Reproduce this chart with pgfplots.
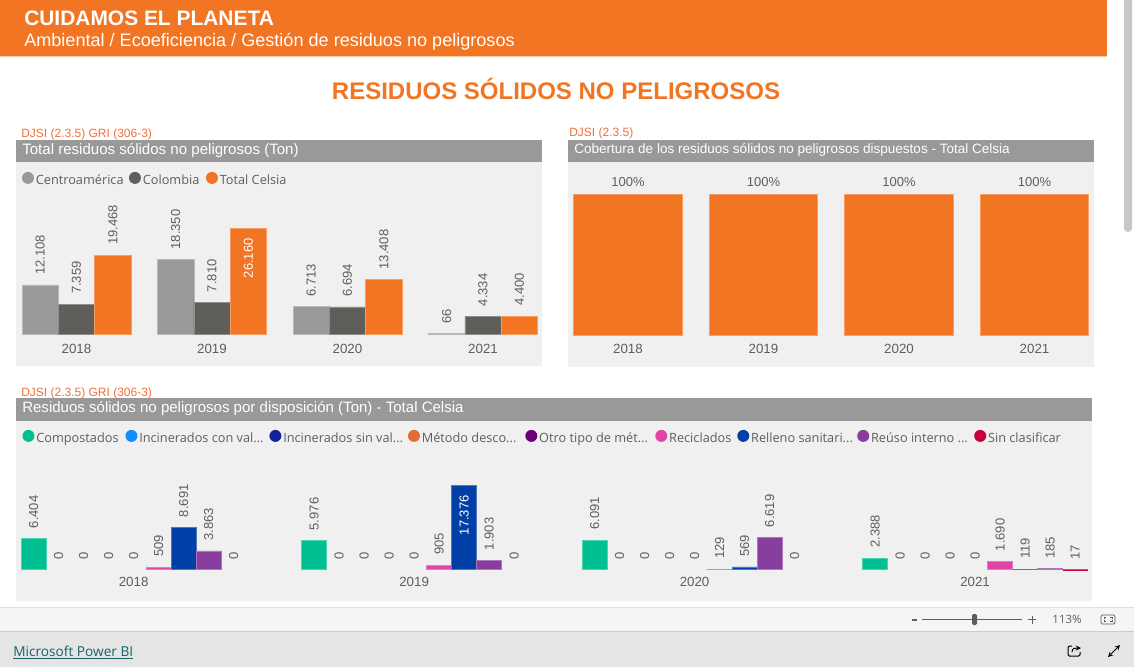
\documentclass[border=0pt]{standalone}
\usepackage{pgfplots}
\pgfplotsset{compat=1.18}
\usepackage{fontspec}
\setmainfont{Liberation Sans}
\newfontfamily\seg{Open Sans}
\definecolor{naranja}{HTML}{F17523}
\definecolor{gris}{HTML}{999999}
\definecolor{oscuro}{HTML}{5F5E5B}
\definecolor{panel}{HTML}{F0F0F0}
\definecolor{txt}{HTML}{605E5C}
\definecolor{djsi}{HTML}{F0703A}
\definecolor{enlace}{HTML}{15616B}
\definecolor{cComp}{HTML}{00BF91}
\definecolor{cIncC}{HTML}{118DFF}
\definecolor{cIncS}{HTML}{12239E}
\definecolor{cMet}{HTML}{E66C37}
\definecolor{cOtro}{HTML}{6B007B}
\definecolor{cRec}{HTML}{E044A7}
\definecolor{cRel}{HTML}{003FA5}
\definecolor{cReu}{HTML}{873E9F}
\definecolor{cSin}{HTML}{C8003E}
% 1 px of the reference = 0.75pt
\def\u{0.75pt}
\newcommand{\fs}[1]{\fontsize{#1}{#1}\selectfont}
\pgfplotsset{
  tablero/.style={
    scale only axis,
    clip=false,
    axis y line=none,
    axis x line*=bottom,
    x axis line style={draw=none},
    major tick length=0pt,
    ybar,
    ymin=0,
    xtick={0,1,2,3},
    xticklabels={2018,2019,2020,2021},
    xticklabel style={font=\fs{10},text=txt,inner sep=0pt},
    /pgf/number format/.cd,1000 sep={.},assume math mode=true,
    /pgfplots/.cd,
    nodes near coords,
    legend columns=-1,
    legend cell align=left,
    legend style={draw=none,fill=none,inner sep=0pt,outer sep=0pt,anchor=west,font=\seg\fs{9.55},text=txt,
      nodes={inner sep=0pt,outer sep=0pt},
      /tikz/every even column/.style={column sep=0pt}},
  },
  vertical/.style={nodes near coords style={font=\fs{9.75},text=txt,rotate=90,anchor=west,inner xsep=7.5pt,inner ysep=0pt}},
  % value written inside the tallest bar
  dentro/.style={nodes near coords style={anchor=east,text=white}},
  barra/.style n args={3}{fill=#1,draw=#1!70!white,line width=0.5pt,bar shift=#2*\u,bar width=#3*\u,forget plot},
  sinbarra/.style n args={2}{fill=none,draw=none,bar shift=#1*\u,bar width=#2*\u,forget plot},
}
% legend entry: dot and a box of fixed width
\newcommand{\leyenda}[3]{%
  \addlegendimage{legend image code/.code={\fill[draw=none,#1] (4.5pt,1.8pt) circle (4.5pt);\path[draw=none] (0pt,0pt) -- (10.4pt,0pt);}}
  \addlegendentry{\makebox[0.75\dimexpr #2pt\relax][l]{#3}}}
\begin{document}
\begin{tikzpicture}
\begin{scope}[x=0.75pt,y=-0.75pt]
  \useasboundingbox (0,0) rectangle (1134,667);
  \fill[white] (0,0) rectangle (1134,667);
  % page header
  \fill[naranja] (0,0) rectangle (1107,56);
  \draw[naranja!40,line width=0.75pt] (0,56.5) -- (1107,56.5);
  \node[anchor=west,inner sep=0pt,text=white,font=\fs{15.7}\bfseries] at (24,18) {CUIDAMOS EL PLANETA};
  \node[anchor=west,inner sep=0pt,text=white,font=\fs{13.56}] at (24,41.5) {Ambiental / Ecoeficiencia / Gestión de residuos no peligrosos};
  \node[inner sep=0pt,text=naranja,font=\fs{18}\bfseries] at (556,88.5) {RESIDUOS SÓLIDOS NO PELIGROSOS};
  % scrollbar
  \fill[black!22,rounded corners=3pt] (1124,-6) rectangle (1132,232);
  % panels
  \fill[panel] (16,162) rectangle (542,366);
  \fill[gris] (16,140) rectangle (542,162);
  \fill[panel] (568,162) rectangle (1094,367);
  \fill[gris] (568,140) rectangle (1094,162);
  \fill[panel] (16,421) rectangle (1092,601);
  \fill[gris] (16,398) rectangle (1092,421);
  \node[anchor=west,inner sep=0pt,text=djsi,font=\fs{9}] at (21,134) {DJSI (2.3.5) GRI (306-3)};
  \node[anchor=west,inner sep=0pt,text=djsi,font=\fs{9}] at (569,133) {DJSI (2.3.5)};
  \node[anchor=west,inner sep=0pt,text=djsi,font=\fs{9}] at (21,393) {DJSI (2.3.5) GRI (306-3)};
  \node[anchor=west,inner sep=0pt,text=white,font=\fs{11.3}] at (22,150.5) {Total residuos sólidos no peligrosos (Ton)};
  \node[anchor=west,inner sep=0pt,text=white,font=\fs{10.15}] at (574,149.5) {Cobertura de los residuos sólidos no peligrosos dispuestos - Total Celsia};
  \node[anchor=west,inner sep=0pt,text=white,font=\fs{11.28}] at (22,408.5) {Residuos sólidos no peligrosos por disposición (Ton) - Total Celsia};
  % report footer
  \fill[black!4] (0,607) rectangle (1134,631);
  \draw[black!12,line width=0.75pt] (0,607) -- (1134,607);
  \fill[black!10] (0,631) rectangle (1134,667);
  \draw[black!20,line width=0.75pt] (0,631) -- (1134,631);
  \node[anchor=west,inner sep=0pt,text=enlace,font=\seg\fs{10.25}] at (13,652.5) {\underline{Microsoft Power BI}};
  \fill[oscuro] (912,619) rectangle (917,620.5);
  \draw[oscuro,line width=0.75pt] (922,619.5) -- (1022,619.5);
  \fill[oscuro,rounded corners=1pt] (972,614) rectangle (977,625);
  \draw[oscuro,line width=0.75pt] (1028,619.5) -- (1036,619.5) (1032,615.5) -- (1032,623.5);
  \node[inner sep=0pt,text=txt,font=\seg\fs{8.6}] at (1067,619.5) {113\%};
  \draw[oscuro,line width=0.6pt,rounded corners=1pt] (1101,615) rectangle (1115,624);
  \fill[black!4] (1104,617.5) rectangle (1112,621.5);
  \draw[oscuro,line width=0.5pt] (1104,619) -- (1104,617.5) -- (1106,617.5) (1110,617.5) -- (1112,617.5) -- (1112,619)
    (1112,620) -- (1112,621.5) -- (1110,621.5) (1106,621.5) -- (1104,621.5) -- (1104,620);
  \draw[black,line width=0.75pt,rounded corners=1pt] (1072,646) -- (1068,646) -- (1068,656) -- (1080,656) -- (1080,652);
  \draw[black,line width=0.75pt,->,>=stealth] (1072,652) .. controls (1072,648) and (1075,648) .. (1081,648);
  \draw[black,line width=0.75pt,<->,>=stealth] (1108,657) -- (1120,645);
\end{scope}

% total por region
\begin{axis}[tablero,vertical,
  at={(22*\u,-334*\u)},anchor=south west,
  width=386.6pt,height=79.5pt,
  xmin=-0.402,xmax=3.402,ymax=26160,
  xticklabel style={yshift=-10*\u},
  legend style={at={(0,1.462)}},
]
  \leyenda{gris}{93.1}{Centroamérica}
  \leyenda{oscuro}{63.1}{Colombia}
  \leyenda{naranja}{90}{Total Celsia}
  \addplot[barra={gris}{-36.3}{36.3}] coordinates {(0,12108) (1,18350) (2,6713) (3,66)};
  \addplot[barra={oscuro}{0}{36.3}] coordinates {(0,7359) (1,7810) (2,6694) (3,4334)};
  \addplot[barra={naranja}{36.3}{36.3}] coordinates {(0,19468) (2,13408) (3,4400)};
  \addplot[barra={naranja}{36.3}{36.3},dentro] coordinates {(1,26160)};
\end{axis}

% cobertura
\begin{axis}[tablero,
  at={(573.5*\u,-335*\u)},anchor=south west,
  width=386.6pt,height=105.75pt,
  xmin=-0.402,xmax=3.402,ymax=100,
  xticklabel style={yshift=-9*\u},
  nodes near coords={\pgfmathprintnumber{\pgfplotspointmeta}\%},
  nodes near coords style={font=\fs{9.75},text=txt,anchor=south,inner xsep=0pt,inner ysep=5.5pt},
]
  \addplot[barra={naranja}{0}{108.5}] coordinates {(0,100) (1,100) (2,100) (3,100)};
\end{axis}

% por disposicion
\begin{axis}[tablero,vertical,
  at={(21.4*\u,-569.7*\u)},anchor=south west,
  width=799.65pt,height=63.5pt,
  xmin=-0.4,xmax=3.4012,ymax=17376,
  xticklabel style={yshift=-7*\u},
  legend style={at={(0.001,1.567)}},
]
  \leyenda{cComp}{89.1}{Compostados}
  \leyenda{cIncC}{130.1}{Incinerados con val...}
  \leyenda{cIncS}{124.7}{Incinerados sin val...}
  \leyenda{cMet}{103.5}{Método desco...}
  \leyenda{cOtro}{116.1}{Otro tipo de mét...}
  \leyenda{cRec}{68.1}{Reciclados}
  \leyenda{cRel}{106.1}{Relleno sanitari...}
  \leyenda{cReu}{103.1}{Reúso interno ...}
  \leyenda{cSin}{90}{Sin clasificar}
  \addplot[barra={cComp}{-100}{25}] coordinates {(0,6404) (1,5976) (2,6091) (3,2388)};
  \addplot[sinbarra={-75}{25}] coordinates {(0,0) (1,0) (2,0) (3,0)};
  \addplot[sinbarra={-50}{25}] coordinates {(0,0) (1,0) (2,0) (3,0)};
  \addplot[sinbarra={-25}{25}] coordinates {(0,0) (1,0) (2,0) (3,0)};
  \addplot[sinbarra={0}{25}] coordinates {(0,0) (1,0) (2,0) (3,0)};
  \addplot[barra={cRec}{25}{25}] coordinates {(0,509) (1,905) (2,129) (3,1690)};
  \addplot[barra={cRel}{50}{25}] coordinates {(0,8691) (2,569) (3,119)};
  \addplot[barra={cRel}{50}{25},dentro] coordinates {(1,17376)};
  \addplot[barra={cReu}{75}{25}] coordinates {(0,3863) (1,1903) (2,6619) (3,185)};
  \addplot[sinbarra={100}{25}] coordinates {(0,0) (1,0) (2,0)};
  \addplot[barra={cSin}{100}{25}] coordinates {(3,17)};
\end{axis}
\end{tikzpicture}
\end{document}
